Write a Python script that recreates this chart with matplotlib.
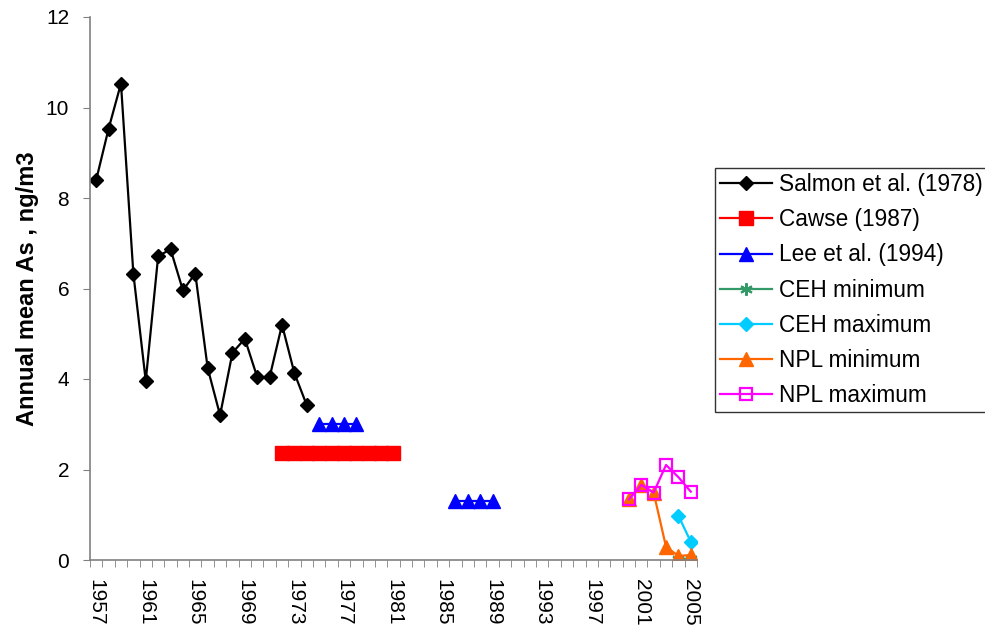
import numpy as np
import matplotlib.pyplot as plt

plt.rcParams["font.family"] = ["Liberation Sans", "DejaVu Sans"]

years = list(range(1957, 2006))

salmon_years = list(range(1957, 1975))
salmon = [8.4, 9.53, 10.53, 6.33, 3.96, 6.71, 6.87, 5.96, 6.33, 4.24,
          3.2, 4.58, 4.89, 4.04, 4.04, 5.2, 4.13, 3.42]

cawse_years = list(range(1972, 1982))
cawse = [2.37] * 10

lee_years = [1975, 1976, 1977, 1978, 1986, 1987, 1988, 1989]
lee = [3.0, 3.0, 3.0, 3.0, 1.3, 1.3, 1.3, 1.3]

ceh_years = [2004, 2005]
ceh_min = [0.02, 0.02]
ceh_max = [0.98, 0.40]

npl_years = list(range(2000, 2006))
npl_min = [1.35, 1.66, 1.49, 0.29, 0.09, 0.11]
npl_max = [1.34, 1.66, 1.49, 2.10, 1.83, 1.51]


def series(yrs, vals):
    # gap between the two Lee et al. runs stays broken by NaN
    x = np.full(len(years), np.nan)
    for yr, v in zip(yrs, vals):
        x[yr - years[0]] = v
    return x


fig = plt.figure(figsize=(9.85, 6.28), dpi=100)
ax = fig.add_axes([90 / 985, 1 - 560 / 628, 607 / 985, 543 / 628])
idx = np.arange(len(years))

ax.plot(idx, series(salmon_years, salmon), color="black", lw=1.6,
        marker="D", ms=7, label="Salmon et al. (1978)")
ax.plot(idx, series(cawse_years, cawse), color="#FF0000", lw=1.6,
        marker="s", ms=10, label="Cawse (1987)")
ax.plot(idx, series(lee_years, lee), color="#0000FF", lw=1.6,
        marker="^", ms=10, label="Lee et al. (1994)")
ax.plot(idx, series(ceh_years, ceh_min), color="#339966", lw=1.6,
        marker=(6, 2, 0), ms=9, mew=1.5, label="CEH minimum")
ax.plot(idx, series(ceh_years, ceh_max), color="#00CCFF", lw=1.6,
        marker="D", ms=7, label="CEH maximum")
ax.plot(idx, series(npl_years, npl_min), color="#FF6600", lw=1.6,
        marker="^", ms=10, label="NPL minimum")
ax.plot(idx, series(npl_years, npl_max), color="#FF00FF", lw=1.6,
        marker="s", ms=9, mfc="none", mew=1.6, label="NPL maximum")

ax.set_xlim(-0.5, len(years) - 0.5)
ax.set_ylim(0, 12)
ax.set_yticks(range(0, 13, 2))

ax.set_xticks(idx[::4])
ax.set_xticklabels([str(y) for y in years[::4]], rotation=-90, fontsize=15)
ax.set_xticks(np.arange(-0.5, len(years)), minor=True)
ax.tick_params(axis="x", which="major", length=0, pad=14)
ax.tick_params(axis="x", which="minor", length=5, color="#808080")
ax.tick_params(axis="y", length=5, color="#808080", labelsize=15, pad=10)

for side in ("top", "right"):
    ax.spines[side].set_visible(False)
for side in ("left", "bottom"):
    ax.spines[side].set_color("#808080")
    ax.spines[side].set_linewidth(1.2)

ax.set_ylabel("Annual mean As , ng/m3", fontsize=17, fontweight="bold", labelpad=5)

leg = ax.legend(loc="upper left", bbox_to_anchor=(715 / 985, 1 - 168 / 628),
                bbox_transform=fig.transFigure, fontsize=16.3, frameon=True,
                fancybox=False, edgecolor="black", handlelength=2.3,
                labelspacing=0.54, borderaxespad=0, borderpad=0.22,
                handletextpad=0.3)
leg.get_frame().set_linewidth(1.0)

fig.savefig("out.png", dpi=100)
